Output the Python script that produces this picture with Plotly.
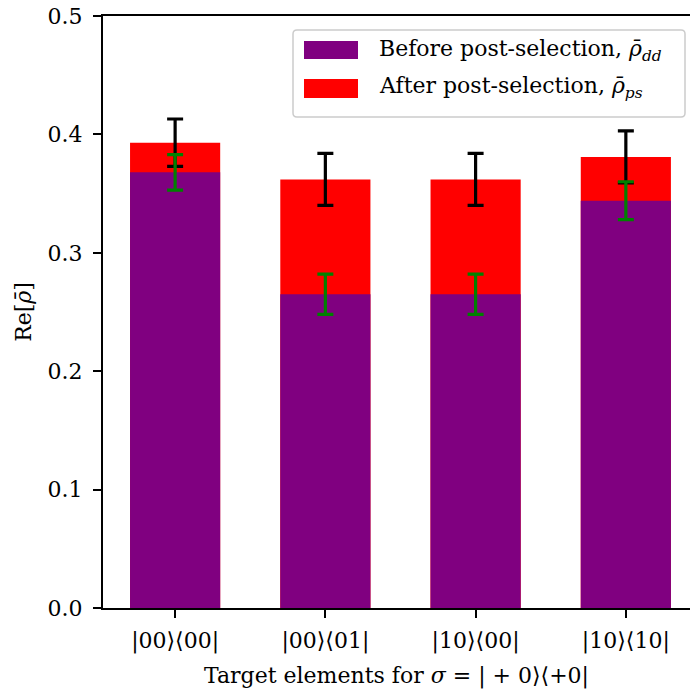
import plotly.graph_objects as go

# ---- data ----
categories = ["|00⟩⟨00|", "|00⟩⟨01|", "|10⟩⟨00|", "|10⟩⟨10|"]
before_vals = [0.368, 0.265, 0.265, 0.344]
before_err = [0.015, 0.017, 0.017, 0.016]
after_vals = [0.393, 0.362, 0.362, 0.381]
after_err = [0.020, 0.022, 0.022, 0.022]
y_ticks = [0.0, 0.1, 0.2, 0.3, 0.4, 0.5]
before_label = "Before post-selection, <i>ρ̄</i><sub><i>dd</i></sub>"
after_label = "After post-selection, <i>ρ̄</i><sub><i>ps</i></sub>"

FONT = "DejaVu Serif"
FS = 22
W, H = 690, 691
ML, MR, MT, MB = 103, 0, 16, 83
PW, PH = W - ML - MR, H - MT - MB
x_pos = list(range(len(categories)))

def px(xp):
    return (xp - ML) / PW

def py(yp):
    return (H - MB - yp) / PH

fig = go.Figure()
fig.add_trace(go.Bar(
    x=x_pos, y=after_vals, width=0.6, marker=dict(color="#ff0000", line=dict(width=0)),
    error_y=dict(type="data", array=after_err, color="black", thickness=3.2, width=8),
    showlegend=False, name="After", hoverinfo="skip"))
fig.add_trace(go.Bar(
    x=x_pos, y=before_vals, width=0.6, marker=dict(color="#800080", line=dict(width=0)),
    error_y=dict(type="data", array=before_err, color="#008000", thickness=3.2, width=8),
    showlegend=False, name="Before", hoverinfo="skip"))

# ---- manual legend ----
bx0, bx1, by0, by1, r = 293, 685, 30, 117, 4
rx, ry = r / PW, r / PH
X0, X1, Y0, Y1 = px(bx0), px(bx1), py(by1), py(by0)
path = (f"M {X0+rx},{Y0} L {X1-rx},{Y0} Q {X1},{Y0} {X1},{Y0+ry} "
        f"L {X1},{Y1-ry} Q {X1},{Y1} {X1-rx},{Y1} L {X0+rx},{Y1} "
        f"Q {X0},{Y1} {X0},{Y1-ry} L {X0},{Y0+ry} Q {X0},{Y0} {X0+rx},{Y0} Z")
shapes = [dict(type="path", path=path, xref="paper", yref="paper",
               line=dict(color="#cccccc", width=1.5), fillcolor="rgba(255,255,255,0.8)", layer="above")]
annotations = []
for (sy0, sy1, col, lab, ty) in [(41, 59, "#800080", before_label, 50), (79, 98, "#ff0000", after_label, 88)]:
    shapes.append(dict(type="rect", xref="paper", yref="paper", x0=px(304), x1=px(358),
                       y0=py(sy1), y1=py(sy0), fillcolor=col, line=dict(width=0), layer="above"))
    annotations.append(dict(xref="paper", yref="paper", x=px(377), y=py(ty), text=lab,
                            showarrow=False, xanchor="left", yanchor="middle",
                            font=dict(family=FONT, size=FS, color="black")))

fig.update_layout(
    width=W, height=H,
    margin=dict(l=ML, r=MR, t=MT, b=MB, autoexpand=False),
    plot_bgcolor="white", paper_bgcolor="white",
    barmode="overlay",
    font=dict(family=FONT, size=FS, color="black"),
    shapes=shapes, annotations=annotations,
    xaxis=dict(range=[-0.48, 3.427], tickvals=x_pos, ticktext=categories,
               showline=True, linecolor="black", linewidth=2, mirror=True,
               ticks="outside", ticklen=8, tickwidth=2, tickcolor="black",
               showgrid=False, zeroline=False, ticklabelstandoff=4,
               title=dict(text="Target elements for <i>σ</i> = | + 0⟩⟨+0|", standoff=14,
                          font=dict(family=FONT, size=FS))),
    yaxis=dict(range=[0, 0.5], tickvals=y_ticks, tickformat=".1f",
               showline=True, linecolor="black", linewidth=2, mirror=False,
               ticks="outside", ticklen=8, tickwidth=2, tickcolor="black",
               showgrid=False, zeroline=False, ticklabelstandoff=6,
               title=dict(text="Re[<i>ρ̄</i>]", standoff=10, font=dict(family=FONT, size=FS))),
)

fig.write_html("out.html", config={"displayModeBar": False},
               post_script="document.body.style.margin='0';")
